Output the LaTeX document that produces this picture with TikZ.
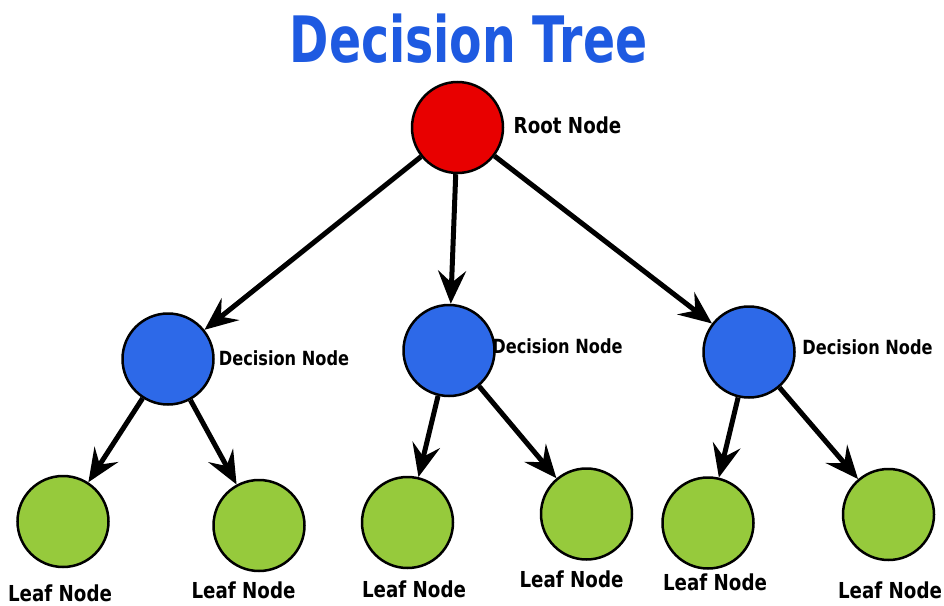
\documentclass[tikz,border=0pt]{standalone}
\usepackage{fontspec}
\usetikzlibrary{arrows.meta}
\newfontfamily\titlefont{DejaVu Sans Bold}[FakeStretch=0.74]
\newfontfamily\lblfont{DejaVu Sans Bold}[FakeStretch=0.83]
\definecolor{titleblue}{RGB}{30,90,225}
\definecolor{rootred}{RGB}{232,0,0}
\definecolor{decblue}{RGB}{45,105,232}
\definecolor{leafgreen}{RGB}{150,202,60}
\tikzset{
  treenode/.style={circle, draw=black, line width=2.5pt, minimum size=91pt, inner sep=0pt},
  rootnode/.style={treenode, fill=rootred},
  decnode/.style={treenode, fill=decblue},
  leafnode/.style={treenode, fill=leafgreen},
  lbl/.style={anchor=base, inner sep=0pt, font=\lblfont\fontsize{22}{22}\selectfont},
  declbl/.style={anchor=base, inner sep=0pt, font=\lblfont\fontsize{19.5}{19.5}\selectfont},
  conn/.style={line width=5pt, -{Stealth[length=33pt,width=28pt,inset=12pt]}}
}
\begin{document}
\begin{tikzpicture}[x=1pt,y=-1pt]
\useasboundingbox[fill=white] (0,0) rectangle (944,605);
\node[anchor=base, inner sep=0pt, text=titleblue, font=\titlefont\fontsize{64}{64}\selectfont] (title) at (468.5,62) {Decision Tree};
% nodes
\node[rootnode] (root) at (457.5,127.5) {};
\node[decnode] (d1) at (168,359) {};
\node[decnode] (d2) at (449,350.5) {};
\node[decnode] (d3) at (749,352) {};
\node[leafnode] (l1) at (63,521.5) {};
\node[leafnode] (l2) at (259,525.5) {};
\node[leafnode] (l3) at (407.5,522.5) {};
\node[leafnode] (l4) at (586.5,514) {};
\node[leafnode] (l5) at (708,523) {};
\node[leafnode] (l6) at (888.5,514.5) {};
% labels
\node[lbl] (rootlbl) at (567.5,133) {Root Node};
\node[declbl] (d1lbl) at (284,365) {Decision Node};
\node[declbl] (d2lbl) at (557.5,353) {Decision Node};
\node[declbl] (d3lbl) at (867.5,354) {Decision Node};
\node[lbl] (l1lbl) at (60,601) {Leaf Node};
\node[lbl] (l2lbl) at (243.5,598) {Leaf Node};
\node[lbl] (l3lbl) at (414,597) {Leaf Node};
\node[lbl] (l4lbl) at (571.5,587) {Leaf Node};
\node[lbl] (l5lbl) at (715,590) {Leaf Node};
\node[lbl] (l6lbl) at (890,598) {Leaf Node};
% connectors
\draw[conn] (root) -- (d1);
\draw[conn] (root) -- (d2);
\draw[conn] (root) -- (d3);
\draw[conn] (d1) -- (l1);
\draw[conn] (d1) -- (l2);
\draw[conn] (d2) -- (l3);
\draw[conn] (d2) -- (l4);
\draw[conn] (d3) -- (l5);
\draw[conn] (d3) -- (l6);
\end{tikzpicture}
\end{document}
